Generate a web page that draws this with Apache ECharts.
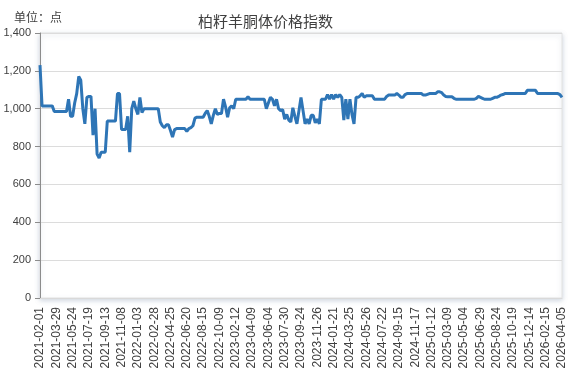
<!DOCTYPE html>
<html>
<head>
<meta charset="utf-8">
<script src="https://cdn.jsdelivr.net/npm/echarts@6/dist/echarts.min.js"></script>
<style>html,body{margin:0;padding:0;background:#fff}#c{width:568px;height:390px}</style>
</head>
<body>
<div id="c"></div>
<script>
const titleText = '柏籽羊胴体价格指数';
const unitText = '单位：点';
const yTicks = [0, 200, 400, 600, 800, 1000, 1200, 1400];

const dates = [
'2021-02-01','2021-02-08','2021-02-15','2021-02-22','2021-03-01','2021-03-08','2021-03-15','2021-03-22',
'2021-03-29','2021-04-05','2021-04-12','2021-04-19','2021-04-26','2021-05-03','2021-05-10','2021-05-17',
'2021-05-24','2021-05-31','2021-06-07','2021-06-14','2021-06-21','2021-06-28','2021-07-05','2021-07-12',
'2021-07-19','2021-07-26','2021-08-02','2021-08-09','2021-08-16','2021-08-23','2021-08-30','2021-09-06',
'2021-09-13','2021-09-20','2021-09-27','2021-10-04','2021-10-11','2021-10-18','2021-10-25','2021-11-01',
'2021-11-08','2021-11-15','2021-11-22','2021-11-29','2021-12-06','2021-12-13','2021-12-20','2021-12-27',
'2022-01-03','2022-01-10','2022-01-17','2022-01-24','2022-01-31','2022-02-07','2022-02-14','2022-02-21',
'2022-02-28','2022-03-07','2022-03-14','2022-03-21','2022-03-28','2022-04-04','2022-04-11','2022-04-18',
'2022-04-25','2022-05-02','2022-05-09','2022-05-16','2022-05-23','2022-05-30','2022-06-06','2022-06-13',
'2022-06-20','2022-06-27','2022-07-04','2022-07-11','2022-07-18','2022-07-25','2022-08-01','2022-08-08',
'2022-08-15','2022-08-22','2022-08-29','2022-09-05','2022-09-12','2022-09-19','2022-09-26','2022-10-02',
'2022-10-09','2022-10-16','2022-10-23','2022-10-30','2022-11-06','2022-11-13','2022-11-20','2023-02-05',
'2023-02-12','2023-02-19','2023-02-26','2023-03-05','2023-03-12','2023-03-19','2023-03-26','2023-04-02',
'2023-04-09','2023-04-16','2023-04-23','2023-04-30','2023-05-07','2023-05-14','2023-05-21','2023-05-28',
'2023-06-04','2023-06-11','2023-06-18','2023-06-25','2023-07-02','2023-07-09','2023-07-16','2023-07-23',
'2023-07-30','2023-08-06','2023-08-13','2023-08-20','2023-08-27','2023-09-03','2023-09-10','2023-09-17',
'2023-09-24','2023-10-01','2023-10-08','2023-10-15','2023-10-22','2023-10-29','2023-11-05','2023-11-19',
'2023-11-26','2023-12-03','2023-12-10','2023-12-17','2023-12-24','2023-12-31','2024-01-07','2024-01-14',
'2024-01-21','2024-01-28','2024-02-04','2024-02-11','2024-02-18','2024-03-03','2024-03-10','2024-03-17',
'2024-03-25','2024-04-01','2024-04-08','2024-04-15','2024-04-22','2024-04-29','2024-05-06','2024-05-19',
'2024-05-26','2024-06-02','2024-06-09','2024-06-16','2024-06-23','2024-06-30','2024-07-07','2024-07-14',
'2024-07-22','2024-07-28','2024-08-04','2024-08-11','2024-08-18','2024-08-25','2024-09-01','2024-09-08',
'2024-09-15','2024-09-22','2024-09-29','2024-10-06','2024-10-13','2024-10-20','2024-10-27','2024-11-03',
'2024-11-17','2024-11-24','2024-12-01','2024-12-08','2024-12-15','2024-12-22','2024-12-29','2025-01-05',
'2025-01-12','2025-01-19','2025-01-26','2025-02-02','2025-02-09','2025-02-16','2025-02-23','2025-03-02',
'2025-03-09','2025-03-16','2025-03-23','2025-03-30','2025-04-06','2025-04-13','2025-04-20','2025-04-27',
'2025-05-04','2025-05-11','2025-05-18','2025-05-25','2025-06-01','2025-06-08','2025-06-15','2025-06-22',
'2025-06-29','2025-07-06','2025-07-13','2025-07-20','2025-07-27','2025-08-03','2025-08-10','2025-08-17',
'2025-08-24','2025-08-31','2025-09-07','2025-09-14','2025-09-21','2025-09-28','2025-10-05','2025-10-12',
'2025-10-19','2025-10-26','2025-11-02','2025-11-09','2025-11-16','2025-11-23','2025-11-30','2025-12-07',
'2025-12-14','2025-12-21','2025-12-28','2026-01-04','2026-01-11','2026-01-18','2026-01-25','2026-02-08',
'2026-02-15','2026-02-22','2026-03-01','2026-03-08','2026-03-15','2026-03-22','2026-03-26','2026-03-29',
'2026-04-05'
];

const priceIndex = [
1230,1015,1015,1015,1015,1015,1015,985,
985,985,985,985,985,985,1050,960,
960,1030,1080,1170,1150,1000,920,1060,
1065,1065,860,1000,760,740,770,770,
770,935,935,935,935,935,1080,1080,
890,890,890,960,770,1000,1040,1000,
970,1060,980,1000,1000,1000,1000,1000,
1000,1000,1000,930,910,900,915,915,
885,850,890,895,895,895,895,895,
880,895,900,910,950,955,955,955,
955,975,990,960,920,965,1000,970,
975,975,1050,1010,955,1005,1015,1000,
1050,1050,1050,1050,1050,1050,1063,1050,
1050,1050,1050,1050,1050,1050,1050,1000,
1030,1060,1050,1015,1050,1000,990,995,
945,970,940,930,1005,960,920,990,
1060,990,920,945,920,965,965,925,
945,920,1050,1050,1050,1075,1050,1075,
1050,1075,1060,1075,1060,940,1050,945,
1050,970,920,1060,1060,1068,1080,1060,
1068,1068,1068,1068,1050,1050,1050,1050,
1050,1050,1065,1072,1072,1072,1072,1080,
1072,1060,1060,1075,1080,1080,1080,1080,
1080,1080,1080,1080,1072,1072,1076,1080,
1080,1080,1080,1089,1089,1085,1072,1065,
1063,1063,1063,1055,1050,1050,1050,1050,
1050,1050,1050,1050,1050,1050,1055,1065,
1060,1055,1050,1050,1050,1050,1055,1060,
1060,1065,1072,1075,1080,1080,1080,1080,
1080,1080,1080,1080,1080,1080,1080,1097,
1097,1097,1097,1097,1080,1080,1080,1080,
1080,1080,1080,1080,1080,1080,1080,1075,
1060
];

const chart = echarts.init(document.getElementById('c'), null, {renderer: 'canvas'});
chart.setOption({
  animation: false,
  backgroundColor: '#ffffff',
  title: [
    {text: titleText, left: 193, top: 9,
     textStyle: {fontSize: 15, fontWeight: 'normal', color: '#404040', fontFamily: 'Noto Sans CJK SC'}},
    {text: unitText, left: 9, top: 6,
     textStyle: {fontSize: 12, fontWeight: 'normal', color: '#404040', fontFamily: 'Noto Sans CJK SC'}}
  ],
  grid: {left: 40, right: 6, top: 33, bottom: 92, show: true, backgroundColor: '#fff',
         borderColor: '#e3e3e3', borderWidth: 1,
         shadowColor: 'rgba(120,140,170,0.35)', shadowBlur: 5, shadowOffsetY: 2},
  xAxis: {
    type: 'category', data: dates, boundaryGap: false,
    axisLine: {show: true, lineStyle: {color: '#d9d9d9'}},
    axisTick: {show: false},
    axisLabel: {interval: 7, rotate: 90, margin: 9, fontSize: 12, color: '#404040', fontFamily: 'Liberation Sans'},
    splitLine: {show: false}
  },
  yAxis: {
    type: 'value', min: yTicks[0], max: yTicks[yTicks.length - 1], interval: 200,
    axisLine: {show: true, lineStyle: {color: '#8c8c8c'}},
    axisTick: {show: true, length: 5, lineStyle: {color: '#8c8c8c'}},
    axisLabel: {margin: 9, fontSize: 11, color: '#404040', fontFamily: 'Liberation Sans',
                formatter: v => v.toLocaleString('en-US')},
    splitLine: {show: true, lineStyle: {color: '#dcdcdc'}}
  },
  series: [{
    type: 'line', data: priceIndex, showSymbol: false, symbol: 'none',
    lineStyle: {color: '#2E75B6', width: 3}, itemStyle: {color: '#2E75B6'}
  }]
});
</script>
</body>
</html>
